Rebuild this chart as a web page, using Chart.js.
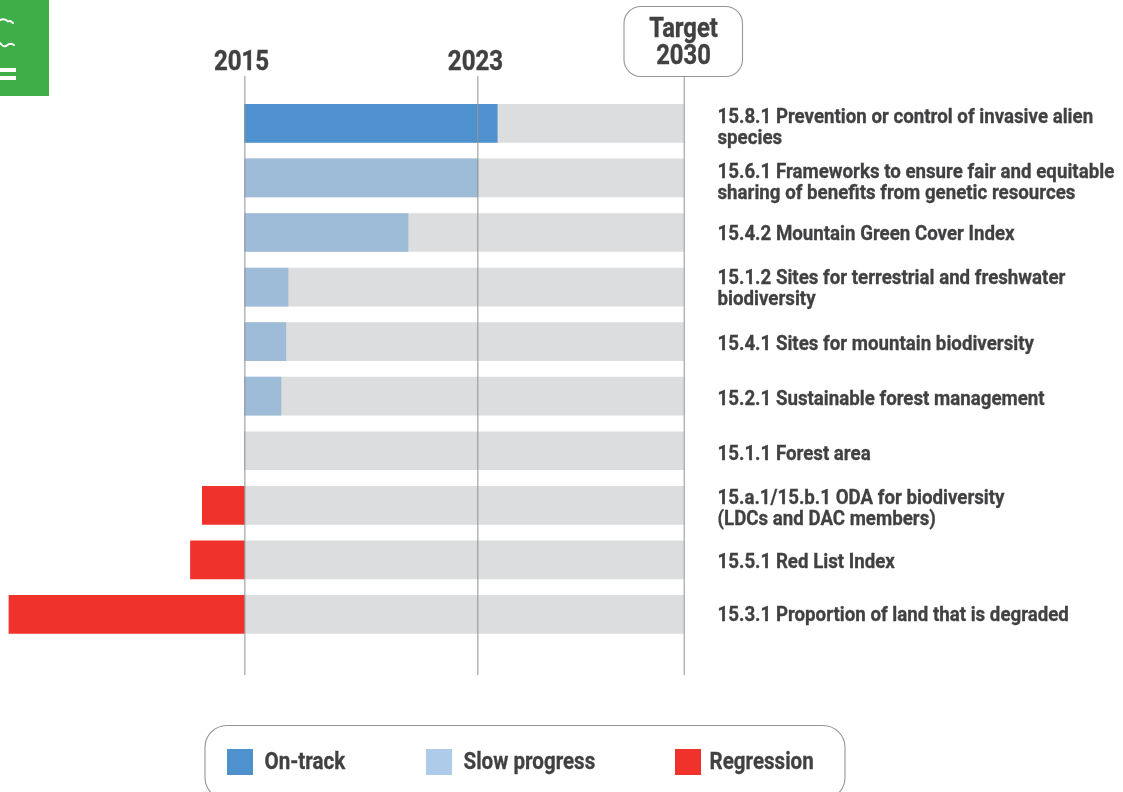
<!DOCTYPE html>
<html><head><meta charset="utf-8">
<style>html,body{margin:0;padding:0;background:#fff;overflow:hidden}#w{position:relative;width:1123px;height:792px}canvas{display:block}</style>
<script src="https://cdn.jsdelivr.net/npm/chart.js@4/dist/chart.umd.min.js"></script>
</head><body><div id="w"><canvas id="c" width="1123" height="792"></canvas></div>
<script>
const categories = [
  ["15.8.1 Prevention or control of invasive alien","species"],
  ["15.6.1 Frameworks to ensure fair and equitable","sharing of benefits from genetic resources"],
  ["15.4.2 Mountain Green Cover Index"],
  ["15.1.2 Sites for terrestrial and freshwater","biodiversity"],
  ["15.4.1 Sites for mountain biodiversity"],
  ["15.2.1 Sustainable forest management"],
  ["15.1.1 Forest area"],
  ["15.a.1/15.b.1 ODA for biodiversity","(LDCs and DAC members)"],
  ["15.5.1 Red List Index"],
  ["15.3.1 Proportion of land that is degraded"]
];
const progress = [57.5, 53.1, 37.2, 9.9, 9.4, 8.3, 0, -9.6, -12.3, -53.6];
const fullScale = [100,100,100,100,100,100,100,100,100,100];
const status = ["On-track","Slow progress","Slow progress","Slow progress","Slow progress","Slow progress","Slow progress","Regression","Regression","Regression"];
const refValues = [0, 53, 100];
const refLabels = ["2015","2023",["Target","2030"]];
const legendLabels = ["On-track","Slow progress","Regression"];
const barColors = {"On-track":"#4f90ce","Slow progress":"#9ebbd7","Regression":"#ef322c"};
const legendColors = {"On-track":"#4f90ce","Slow progress":"#aecce9","Regression":"#ef322c"};
const labelNudge = [4.3,4.6,1.6,2,2.6,3.6,3.6,3.6,2.6,0.6];
const INK = "#414042";
const FAMILY = "Roboto, sans-serif";

function squeezed(ctx, text, x, y, size, align, sx, bold){
  ctx.save();
  ctx.font = "700 "+size+"px "+FAMILY;
  ctx.fillStyle = INK;
  ctx.textBaseline = "middle";
  ctx.textAlign = align;
  ctx.translate(x, y);
  ctx.scale(sx, 1);
  ctx.fillText(text, 0, 0);
  if(bold){ctx.strokeStyle=INK;ctx.lineWidth=bold;ctx.lineJoin="round";ctx.strokeText(text,0,0);}
  ctx.restore();
}
function roundBox(ctx,x,y,w,h,r){
  ctx.beginPath();ctx.roundRect(x,y,w,h,r);
  ctx.fillStyle="#fff";ctx.fill();
  ctx.strokeStyle="#939598";ctx.lineWidth=1.1;ctx.stroke();
}
function drawBadge(ctx){
  ctx.save();
  ctx.fillStyle="#3fae49";ctx.fillRect(0,0,49,96);
  ctx.fillStyle="#fff";
  ctx.fillRect(0,68,16,4);ctx.fillRect(0,76,16,4);
  ctx.strokeStyle="#fff";ctx.lineWidth=1.9;ctx.lineCap="round";
  ctx.beginPath();ctx.moveTo(0,20);ctx.quadraticCurveTo(5,18,8,21.5);ctx.quadraticCurveTo(10,20,13,23);ctx.stroke();
  ctx.beginPath();ctx.moveTo(0,43);ctx.quadraticCurveTo(3,47,6,46);ctx.quadraticCurveTo(10,42,14,45);ctx.stroke();
  ctx.restore();
}
const overlay = {
  id:"overlay",
  afterDatasetsDraw(chart){
    const ctx=chart.ctx, xS=chart.scales.x, yS=chart.scales.y;
    ctx.save();
    ctx.strokeStyle="rgba(150,152,155,0.72)";ctx.lineWidth=1.5;
    refValues.forEach(v=>{const x=xS.getPixelForValue(v);
      ctx.beginPath();ctx.moveTo(x+0.3,76);ctx.lineTo(x+0.3,675);ctx.stroke();});
    ctx.restore();
    drawBadge(ctx);
    squeezed(ctx,refLabels[0],xS.getPixelForValue(refValues[0])-3,62.5,28,"center",0.86,0.4);
    squeezed(ctx,refLabels[1],xS.getPixelForValue(refValues[1])-2,62.5,28,"center",0.86,0.4);
    const tx=xS.getPixelForValue(refValues[2]);
    roundBox(ctx,624,6.5,118.5,70,17);
    squeezed(ctx,refLabels[2][0],tx-0.5,29.5,28,"center",0.85,0.4);
    squeezed(ctx,refLabels[2][1],tx-0.5,57,28,"center",0.85,0.4);
    categories.forEach((lines,i)=>{
      const cy=yS.getPixelForValue(i)+labelNudge[i];
      const step=20.8, start=cy-(lines.length-1)*step/2;
      lines.forEach((t,j)=>squeezed(ctx,t,717.5,start+j*step+0.5,20.5,"left",0.912,0.3));
    });
    roundBox(ctx,205,725.5,640,74,22);
    const sx=[227,426,675], tx2=[264.5,463.5,709.5];
    legendLabels.forEach((l,i)=>{
      ctx.fillStyle=legendColors[l];ctx.fillRect(sx[i],749,26,26);
      squeezed(ctx,l,tx2[i],762.5,24.5,"left",0.84,0.3);
    });
  }
};
new Chart(document.getElementById("c"),{
  type:"bar",
  data:{
    labels:categories,
    datasets:[
      {label:"Progress",data:progress,backgroundColor:status.map(s=>barColors[s]),barThickness:38,order:1,borderWidth:0},
      {label:"Scale",data:fullScale,backgroundColor:"#dcddde",barThickness:38,order:2,borderWidth:0}
    ]
  },
  options:{
    indexAxis:"y",responsive:false,animation:false,
    layout:{padding:{left:2.8,right:439,top:96.1,bottom:150.3}},
    plugins:{legend:{display:false},tooltip:{enabled:false}},
    datasets:{bar:{grouped:false}},
    scales:{
      x:{type:"linear",min:-55,max:100,display:false},
      y:{type:"category",display:false,grid:{display:false}}
    }
  },
  plugins:[overlay]
});
</script></body></html>
